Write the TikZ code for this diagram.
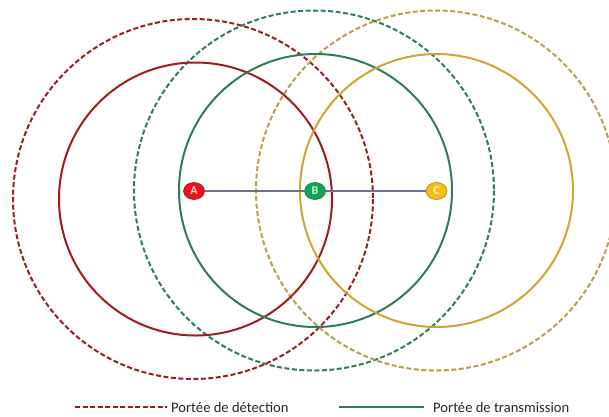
\documentclass[tikz,border=0pt]{standalone}
\usepackage{fontspec}
\setmainfont{Carlito}
\usetikzlibrary{shapes.geometric}
\definecolor{rdark}{HTML}{9E1B1E}
\definecolor{gdark}{HTML}{2F7D55}
\definecolor{ydark}{HTML}{CDA532}
\definecolor{ydash}{HTML}{B9A04E}
\definecolor{rnode}{HTML}{E8141B}
\definecolor{gnode}{HTML}{11A452}
\definecolor{ynode}{HTML}{F6BE16}
\definecolor{linkc}{HTML}{6E7487}
\tikzset{
  nodebox/.style={ellipse, draw=#1!70!black, fill=#1, line width=0.6pt, minimum width=21pt, minimum height=17pt, inner sep=0pt, text=white!80!#1, font=\bfseries\fontsize{12}{12}\selectfont},
  trange/.style={line width=2pt},
  drange/.style={line width=2pt, dash pattern=on 5pt off 2.5pt},
  legtext/.style={anchor=west, font=\fontsize{14.6}{14.6}\selectfont, text=black!85, inner sep=0pt},
  link/.style={draw=linkc, line width=1.4pt}
}
\begin{document}
\begin{tikzpicture}[x=1pt,y=-1pt]
\useasboundingbox (0,0) rectangle (609,416);
\begin{scope}
\clip (0,0) rectangle (609,416);
% detection ranges (dashed)
\draw[drange, rdark] (193,199) circle[radius=180];
\draw[drange, gdark] (314,190.5) circle[radius=180];
\draw[drange, ydash] (436,190.5) circle[radius=180];
% transmission ranges (solid)
\draw[trange, rdark] (195.5,199) circle[radius=136.5];
\draw[trange, gdark] (315.5,190.5) circle[radius=136.5];
\draw[trange, ydark] (436.5,190.5) circle[radius=136.5];
\end{scope}
% nodes
\node[nodebox=rnode] (A) at (194,191) {A};
\node[nodebox=gnode] (B) at (315,191) {B};
\node[nodebox=ynode] (C) at (436.5,191) {C};
\draw[link] (A) -- (B);
\draw[link] (B) -- (C);
% legend
\coordinate (l1a) at (75,407);
\coordinate (l1b) at (167,407);
\draw[drange, rdark, line width=1.6pt] (l1a) -- (l1b);
\node[legtext] (t1) at (171,407) {Portée de détection};
\coordinate (l2a) at (339,407);
\coordinate (l2b) at (424,407);
\draw[trange, gdark, line width=1.6pt] (l2a) -- (l2b);
\node[legtext] (t2) at (433,407) {Portée de transmission};
\end{tikzpicture}
\end{document}
